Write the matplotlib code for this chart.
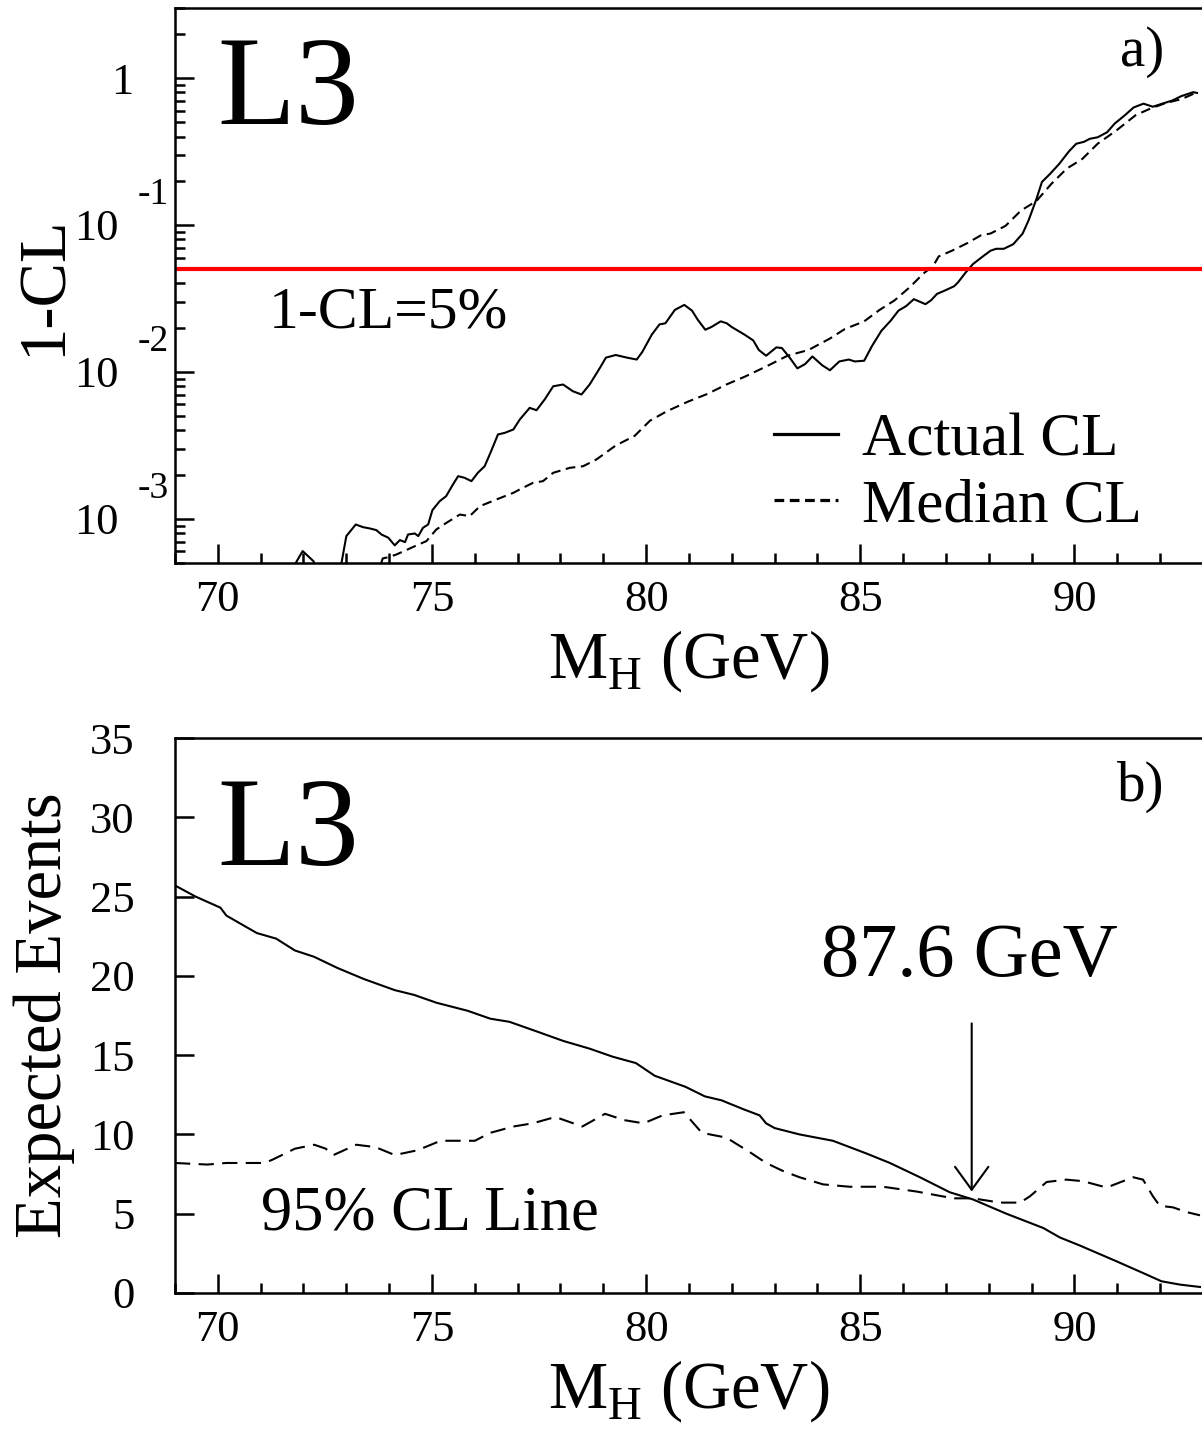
import numpy as np
import matplotlib
matplotlib.use('Agg')
import matplotlib.pyplot as plt
from matplotlib.ticker import LogLocator, NullFormatter, MultipleLocator

plt.rcParams['font.family'] = ['Liberation Serif', 'DejaVu Serif']
plt.rcParams['mathtext.fontset'] = 'custom'
plt.rcParams['mathtext.rm'] = 'Liberation Serif'
plt.rcParams['lines.scale_dashes'] = False

# ---- panel a) : 1-CL vs Higgs mass (log10 of 1-CL read off the plot)
mh_actual = [69.0, 71.7, 71.98, 72.23, 72.35, 72.85, 73.0, 73.22, 73.39, 73.55,
             73.7, 73.82, 73.98, 74.13, 74.25, 74.37, 74.44, 74.6, 74.68, 74.79,
             74.91, 75.01, 75.18, 75.33, 75.49, 75.61, 75.76, 75.92, 76.07, 76.23,
             76.38, 76.54, 76.7, 76.9, 77.05, 77.28, 77.44, 77.63, 77.83, 78.06,
             78.29, 78.49, 78.68, 78.93, 79.06, 79.29, 79.55, 79.78, 79.91, 80.13,
             80.31, 80.45, 80.67, 80.89, 81.07, 81.2, 81.38, 81.52, 81.74, 81.88,
             82.0, 82.3, 82.5, 82.63, 82.8, 83.04, 83.17, 83.35, 83.53, 83.71,
             83.88, 84.11, 84.29, 84.51, 84.73, 84.87, 85.09, 85.27, 85.49, 85.71,
             85.89, 86.07, 86.25, 86.52, 86.65, 86.79, 86.96, 87.19, 87.28, 87.46,
             87.63, 87.86, 88.04, 88.17, 88.35, 88.57, 88.79, 88.93, 89.11, 89.24,
             89.42, 89.64, 89.87, 90.04, 90.22, 90.36, 90.54, 90.76, 90.94, 91.16,
             91.38, 91.61, 91.83, 92.05, 92.28, 92.5, 92.77, 92.86]
log_actual = [-3.6, -3.36, -3.22, -3.288, -3.36, -3.36, -3.118, -3.039, -3.057, -3.066,
              -3.077, -3.107, -3.129, -3.181, -3.145, -3.159, -3.107, -3.1, -3.118, -3.061,
              -3.039, -2.941, -2.88, -2.846, -2.766, -2.71, -2.721, -2.744, -2.687, -2.642,
              -2.54, -2.426, -2.415, -2.392, -2.324, -2.245, -2.261, -2.188, -2.098, -2.086,
              -2.132, -2.154, -2.086, -1.968, -1.903, -1.885, -1.903, -1.916, -1.864, -1.747,
              -1.677, -1.669, -1.578, -1.544, -1.583, -1.643, -1.713, -1.695, -1.656, -1.669,
              -1.695, -1.747, -1.786, -1.851, -1.89, -1.833, -1.838, -1.903, -1.976, -1.947,
              -1.895, -1.955, -1.989, -1.929, -1.916, -1.929, -1.924, -1.825, -1.721, -1.651,
              -1.583, -1.552, -1.505, -1.539, -1.513, -1.469, -1.448, -1.417, -1.391, -1.323,
              -1.266, -1.214, -1.175, -1.162, -1.162, -1.131, -1.058, -0.967, -0.824, -0.707,
              -0.655, -0.585, -0.499, -0.447, -0.434, -0.413, -0.403, -0.369, -0.309, -0.257,
              -0.2, -0.174, -0.195, -0.174, -0.153, -0.122, -0.096, -0.101]

mh_median = [73.7, 73.85, 74.0, 74.17, 74.4, 74.64, 74.87, 75.1, 75.34, 75.65,
             75.88, 76.12, 76.51, 76.9, 77.05, 77.36, 77.59, 77.83, 78.22, 78.53,
             78.84, 79.29, 79.73, 80.09, 80.49, 80.98, 81.43, 81.88, 82.3, 82.86,
             83.3, 83.79, 84.29, 84.64, 85.09, 85.45, 85.8, 86.16, 86.47, 86.7,
             86.83, 87.14, 87.5, 87.81, 88.04, 88.39, 88.75, 89.11, 89.46, 89.82,
             90.18, 90.54, 90.98, 91.43, 91.79, 92.14, 92.5, 92.8]
log_median = [-3.4, -3.27, -3.26, -3.243, -3.213, -3.181, -3.152, -3.073, -3.027, -2.971,
              -2.982, -2.914, -2.868, -2.823, -2.8, -2.755, -2.744, -2.687, -2.653, -2.642,
              -2.596, -2.501, -2.436, -2.332, -2.267, -2.202, -2.15, -2.085, -2.033, -1.955,
              -1.89, -1.851, -1.773, -1.708, -1.656, -1.578, -1.513, -1.422, -1.331, -1.279,
              -1.214, -1.175, -1.123, -1.071, -1.058, -1.006, -0.902, -0.837, -0.72, -0.616,
              -0.551, -0.447, -0.356, -0.252, -0.205, -0.169, -0.143, -0.104]

cl_limit = 0.05

# ---- panel b) : expected signal events and 95% CL line
mh_expected = [69.0, 69.48, 70.06, 70.2, 70.91, 71.36, 71.8, 72.25, 72.79, 73.41,
               74.13, 74.58, 75.11, 75.83, 76.36, 76.81, 77.44, 78.06, 78.69, 79.22,
               79.76, 80.2, 80.92, 81.37, 81.76, 82.26, 82.65, 82.8, 83.0, 83.58,
               84.36, 85.14, 85.69, 86.39, 87.09, 87.63, 88.41, 89.27, 89.66, 90.12,
               90.98, 91.6, 92.03, 92.46, 92.93]
n_expected = [25.7, 25.0, 24.3, 23.8, 22.7, 22.35, 21.6, 21.2, 20.5, 19.8,
              19.1, 18.8, 18.3, 17.8, 17.3, 17.1, 16.5, 15.9, 15.4, 14.9,
              14.5, 13.7, 13.0, 12.4, 12.15, 11.6, 11.2, 10.7, 10.4, 10.0,
              9.6, 8.8, 8.2, 7.3, 6.35, 5.9, 5.0, 4.1, 3.5, 3.0,
              2.0, 1.26, 0.74, 0.53, 0.38]

mh_cl95 = [69.0, 69.75, 70.2, 71.09, 71.27, 71.8, 72.25, 72.52, 72.7, 73.23,
           73.68, 74.13, 74.66, 75.2, 76.0, 76.36, 76.9, 77.35, 77.88, 78.51,
           79.04, 79.49, 79.94, 80.38, 80.88, 81.3, 81.87, 82.41, 82.8, 83.19,
           83.58, 84.13, 84.75, 85.53, 86.31, 87.17, 87.63, 88.26, 88.73, 88.96,
           89.35, 89.81, 90.2, 90.75, 91.37, 91.6, 91.83, 91.99, 92.3, 92.62, 92.93]
n_cl95 = [8.2, 8.1, 8.2, 8.2, 8.4, 9.1, 9.35, 9.1, 8.7, 9.35,
          9.2, 8.7, 9.0, 9.6, 9.6, 10.1, 10.5, 10.7, 11.1, 10.5,
          11.3, 10.9, 10.7, 11.2, 11.4, 10.1, 9.8, 8.9, 8.2, 7.7,
          7.3, 6.85, 6.7, 6.7, 6.4, 5.97, 5.97, 5.7, 5.7, 6.1,
          7.0, 7.15, 7.05, 6.65, 7.3, 7.15, 6.1, 5.5, 5.4, 5.1, 4.9]

mh_excluded = 87.6

W, H = 1202, 1433
fig = plt.figure(figsize=(W / 100, H / 100), dpi=100)
ax1 = fig.add_axes([175 / W, 1 - 563 / H, 1028 / W, 555 / H])
ax2 = fig.add_axes([175 / W, 1 - 1293 / H, 1028 / W, 555 / H])

for ax in (ax1, ax2):
    ax.set_xlim(69, 93)
    ax.xaxis.set_major_locator(MultipleLocator(5))
    ax.xaxis.set_minor_locator(MultipleLocator(1))
    ax.tick_params(which='both', direction='in', width=1.8, top=False, right=False)
    ax.tick_params(which='major', length=13.5)
    ax.tick_params(which='minor', length=7)
    ax.tick_params(axis='x', labelsize=32, pad=12)
    for s in ('left', 'bottom', 'top'):
        ax.spines[s].set_linewidth(1.8)
    ax.spines['right'].set_visible(False)
    ax.set_xlabel(r'M$_{\mathrm{H}}$ (GeV)', fontsize=48)
    ax.xaxis.set_label_coords(0.5, -0.118)

# ---- top
ax1.set_yscale('log')
ax1.set_ylim(5e-4, 3)
ax1.plot(mh_actual, 10.0 ** np.array(log_actual), color='black', lw=1.5, label='Actual CL')
ax1.plot(mh_median, 10.0 ** np.array(log_median), color='black', lw=1.5,
         linestyle=(0, (7, 4)), label='Median CL')
ax1.axhline(cl_limit, color='#ff0000', lw=3)
ax1.yaxis.set_major_locator(LogLocator(base=10, numticks=10))
ax1.yaxis.set_minor_locator(LogLocator(base=10, subs=np.arange(2, 10), numticks=20))
ax1.yaxis.set_major_formatter(NullFormatter())
ax1.yaxis.set_minor_formatter(NullFormatter())
ytr = ax1.get_yaxis_transform()
for k in [0, -1, -2, -3]:
    if k == 0:
        ax1.text(-0.051, 1.0, '1', transform=ytr, ha='center', va='center_baseline', fontsize=32)
    else:
        ax1.text(-0.0545, 10.0 ** k, '10', transform=ytr, ha='right', va='center_baseline', fontsize=32)
        ax1.text(-0.036, 10.0 ** (k + 0.235), str(k), transform=ytr, ha='left',
                 va='center_baseline', fontsize=27)
ax1.set_ylabel('1-CL', fontsize=48)
ax1.yaxis.set_label_coords(-0.0973, 0.5)

ax1.text(70.0, 0.49, 'L3', fontsize=92, ha='left', va='baseline')
ax1.text(92.1, 1.22, 'a)', fontsize=41, ha='right', va='baseline')
ax1.text(71.18, 0.0202, '1-CL=5%', fontsize=43, ha='left', va='baseline')

leg = ax1.legend(loc='center left', bbox_to_anchor=(82.99, 0.00203), bbox_transform=ax1.transData,
                 frameon=False, fontsize=44, handlelength=1.05, handletextpad=0.39,
                 labelspacing=0.17, borderpad=0, borderaxespad=0)
for ln in leg.get_lines():
    ln.set_linewidth(2.3)

# ---- bottom
ax2.set_ylim(0, 35)
ax2.yaxis.set_major_locator(MultipleLocator(5))
ax2.tick_params(axis='y', labelsize=32, pad=29)
ax2.plot(mh_expected, n_expected, color='black', lw=1.5)
ax2.plot(mh_cl95, n_cl95, color='black', lw=1.5, linestyle=(0, (11, 6)))
ax2.set_ylabel('Expected Events', fontsize=48)
ax2.yaxis.set_label_coords(-0.0973, 0.5)

ax2.text(70.0, 27.0, 'L3', fontsize=92, ha='left', va='baseline')
ax2.text(92.1, 31.06, 'b)', fontsize=41, ha='right', va='baseline')
ax2.text(71.0, 4.0, '95% CL Line', fontsize=45, ha='left', va='baseline')
ax2.text(87.54, 20.0, '87.6 GeV', fontsize=55, ha='center', va='baseline')
ax2.annotate('', xy=(mh_excluded, 6.4), xytext=(mh_excluded, 17.0),
             arrowprops=dict(arrowstyle='->,head_length=0.55,head_width=0.4', lw=1.5,
                             color='black', mutation_scale=30, shrinkA=0, shrinkB=0))

fig.savefig('out.png', dpi=100)
